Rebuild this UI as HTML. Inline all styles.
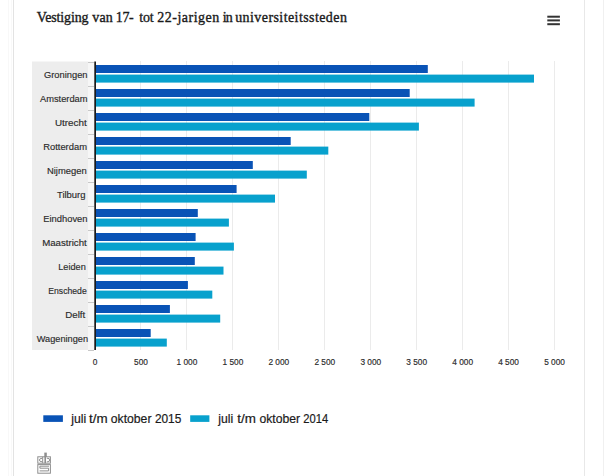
<!DOCTYPE html>
<html><head><meta charset="utf-8"><style>
html,body{margin:0;padding:0;background:#fff;}
body{width:604px;height:476px;overflow:hidden;position:relative;}
svg{position:absolute;left:0;top:0;}
.cat{font-family:"Liberation Sans",sans-serif;font-size:9.3px;fill:#2b2b2b;stroke:#2b2b2b;stroke-width:0.15px;}
.xl{font-family:"Liberation Sans",sans-serif;font-size:8.3px;fill:#2a2a2a;stroke:#2a2a2a;stroke-width:0.15px;}
.lg{font-family:"Liberation Sans",sans-serif;font-size:12.2px;fill:#1a1a1a;stroke:#1a1a1a;stroke-width:0.2px;}
.title{font-family:"Liberation Serif",serif;font-size:14px;fill:#1a1a1a;stroke:#1a1a1a;stroke-width:0.35px;}
</style></head><body>
<svg width="604" height="476" viewBox="0 0 604 476">
<line x1="13.5" y1="0" x2="13.5" y2="476" stroke="#e3e3e3" stroke-width="1"/>
<line x1="8.5" y1="0" x2="8.5" y2="476" stroke="#f8f8f8" stroke-width="1"/>
<line x1="11.5" y1="0" x2="11.5" y2="476" stroke="#f9f9f9" stroke-width="1"/>
<line x1="584.5" y1="0" x2="584.5" y2="476" stroke="#e8e8e8" stroke-width="1"/>
<line x1="603.5" y1="0" x2="603.5" y2="476" stroke="#f0f0f0" stroke-width="1"/>
<rect x="32" y="61.5" width="56.5" height="288.5" fill="#ededed"/>
<rect x="88.5" y="61.5" width="5.7" height="288.5" fill="#f6f6f6"/>
<line x1="140.5" y1="61" x2="140.5" y2="350" stroke="#ebebeb" stroke-width="1"/>
<line x1="186.5" y1="61" x2="186.5" y2="350" stroke="#ebebeb" stroke-width="1"/>
<line x1="232.5" y1="61" x2="232.5" y2="350" stroke="#ebebeb" stroke-width="1"/>
<line x1="278.5" y1="61" x2="278.5" y2="350" stroke="#ebebeb" stroke-width="1"/>
<line x1="324.5" y1="61" x2="324.5" y2="350" stroke="#ebebeb" stroke-width="1"/>
<line x1="370.5" y1="61" x2="370.5" y2="350" stroke="#ebebeb" stroke-width="1"/>
<line x1="416.5" y1="61" x2="416.5" y2="350" stroke="#ebebeb" stroke-width="1"/>
<line x1="462.5" y1="61" x2="462.5" y2="350" stroke="#ebebeb" stroke-width="1"/>
<line x1="508.5" y1="61" x2="508.5" y2="350" stroke="#ebebeb" stroke-width="1"/>
<line x1="554.5" y1="61" x2="554.5" y2="350" stroke="#ebebeb" stroke-width="1"/>
<line x1="88" y1="62.5" x2="94" y2="62.5" stroke="#c8c8c8" stroke-width="1"/>
<line x1="88" y1="86.5" x2="94" y2="86.5" stroke="#c8c8c8" stroke-width="1"/>
<line x1="88" y1="110.5" x2="94" y2="110.5" stroke="#c8c8c8" stroke-width="1"/>
<line x1="88" y1="134.5" x2="94" y2="134.5" stroke="#c8c8c8" stroke-width="1"/>
<line x1="88" y1="158.5" x2="94" y2="158.5" stroke="#c8c8c8" stroke-width="1"/>
<line x1="88" y1="182.5" x2="94" y2="182.5" stroke="#c8c8c8" stroke-width="1"/>
<line x1="88" y1="206.5" x2="94" y2="206.5" stroke="#c8c8c8" stroke-width="1"/>
<line x1="88" y1="230.5" x2="94" y2="230.5" stroke="#c8c8c8" stroke-width="1"/>
<line x1="88" y1="254.5" x2="94" y2="254.5" stroke="#c8c8c8" stroke-width="1"/>
<line x1="88" y1="278.5" x2="94" y2="278.5" stroke="#c8c8c8" stroke-width="1"/>
<line x1="88" y1="302.5" x2="94" y2="302.5" stroke="#c8c8c8" stroke-width="1"/>
<line x1="88" y1="326.5" x2="94" y2="326.5" stroke="#c8c8c8" stroke-width="1"/>
<line x1="88" y1="350.5" x2="94" y2="350.5" stroke="#c8c8c8" stroke-width="1"/>
<rect x="96" y="65" width="331.8" height="8" fill="#0953b6"/>
<rect x="96" y="74.6" width="438.0" height="8" fill="#08a1cd"/>
<rect x="96" y="89" width="313.7" height="8" fill="#0953b6"/>
<rect x="96" y="98.6" width="378.6" height="8" fill="#08a1cd"/>
<rect x="96" y="113" width="273.3" height="8" fill="#0953b6"/>
<rect x="96" y="122.6" width="322.9" height="8" fill="#08a1cd"/>
<rect x="96" y="137" width="194.7" height="8" fill="#0953b6"/>
<rect x="96" y="146.6" width="232.3" height="8" fill="#08a1cd"/>
<rect x="96" y="161" width="156.8" height="8" fill="#0953b6"/>
<rect x="96" y="170.6" width="210.8" height="8" fill="#08a1cd"/>
<rect x="96" y="185" width="140.6" height="8" fill="#0953b6"/>
<rect x="96" y="194.6" width="179.0" height="8" fill="#08a1cd"/>
<rect x="96" y="209" width="101.8" height="8" fill="#0953b6"/>
<rect x="96" y="218.6" width="132.9" height="8" fill="#08a1cd"/>
<rect x="96" y="233" width="99.6" height="8" fill="#0953b6"/>
<rect x="96" y="242.6" width="137.9" height="8" fill="#08a1cd"/>
<rect x="96" y="257" width="98.8" height="8" fill="#0953b6"/>
<rect x="96" y="266.6" width="127.5" height="8" fill="#08a1cd"/>
<rect x="96" y="281" width="91.9" height="8" fill="#0953b6"/>
<rect x="96" y="290.6" width="116.3" height="8" fill="#08a1cd"/>
<rect x="96" y="305" width="73.9" height="8" fill="#0953b6"/>
<rect x="96" y="314.6" width="124.2" height="8" fill="#08a1cd"/>
<rect x="96" y="329" width="54.7" height="8" fill="#0953b6"/>
<rect x="96" y="338.6" width="70.8" height="8" fill="#08a1cd"/>
<rect x="94" y="61.5" width="1" height="288.5" fill="#5a5a5a"/><rect x="95" y="61.5" width="1" height="288.5" fill="#1a1a1a"/>
<text x="43.96" y="77.6" class="cat" textLength="43.56" lengthAdjust="spacingAndGlyphs">Groningen</text>
<text x="40.00" y="101.6" class="cat" textLength="47.52" lengthAdjust="spacingAndGlyphs">Amsterdam</text>
<text x="54.98" y="125.6" class="cat" textLength="31.78" lengthAdjust="spacingAndGlyphs">Utrecht</text>
<text x="43.20" y="149.6" class="cat" textLength="43.80" lengthAdjust="spacingAndGlyphs">Rotterdam</text>
<text x="46.96" y="173.6" class="cat" textLength="39.80" lengthAdjust="spacingAndGlyphs">Nijmegen</text>
<text x="56.98" y="197.6" class="cat" textLength="28.52" lengthAdjust="spacingAndGlyphs">Tilburg</text>
<text x="43.20" y="221.6" class="cat" textLength="44.32" lengthAdjust="spacingAndGlyphs">Eindhoven</text>
<text x="42.22" y="245.6" class="cat" textLength="44.52" lengthAdjust="spacingAndGlyphs">Maastricht</text>
<text x="58.22" y="269.6" class="cat" textLength="27.52" lengthAdjust="spacingAndGlyphs">Leiden</text>
<text x="48.24" y="293.6" class="cat" textLength="38.52" lengthAdjust="spacingAndGlyphs">Enschede</text>
<text x="65.20" y="317.6" class="cat" textLength="20.06" lengthAdjust="spacingAndGlyphs">Delft</text>
<text x="36.76" y="341.6" class="cat" textLength="51.26" lengthAdjust="spacingAndGlyphs">Wageningen</text>
<text x="95.0" y="365.3" text-anchor="middle" class="xl">0</text>
<text x="141.0" y="365.3" text-anchor="middle" class="xl">500</text>
<text x="186.9" y="365.3" text-anchor="middle" class="xl">1 000</text>
<text x="232.9" y="365.3" text-anchor="middle" class="xl">1 500</text>
<text x="278.8" y="365.3" text-anchor="middle" class="xl">2 000</text>
<text x="324.8" y="365.3" text-anchor="middle" class="xl">2 500</text>
<text x="370.8" y="365.3" text-anchor="middle" class="xl">3 000</text>
<text x="416.7" y="365.3" text-anchor="middle" class="xl">3 500</text>
<text x="462.7" y="365.3" text-anchor="middle" class="xl">4 000</text>
<text x="508.6" y="365.3" text-anchor="middle" class="xl">4 500</text>
<text x="554.6" y="365.3" text-anchor="middle" class="xl">5 000</text>
<rect x="43.3" y="415.3" width="19.6" height="6.6" fill="#0953b6"/>
<rect x="190.2" y="415.3" width="19.2" height="6.6" fill="#08a1cd"/>
<text x="71.30" y="423.3" class="lg">juli</text>
<text x="89.00" y="423.3" class="lg" textLength="18.6" lengthAdjust="spacingAndGlyphs">t/m</text>
<text x="110.80" y="423.3" class="lg">oktober</text>
<text x="154.90" y="423.3" class="lg" textLength="26.4" lengthAdjust="spacingAndGlyphs">2015</text>
<text x="218.30" y="423.3" class="lg">juli</text>
<text x="237.30" y="423.3" class="lg" textLength="18.6" lengthAdjust="spacingAndGlyphs">t/m</text>
<text x="259.40" y="423.3" class="lg">oktober</text>
<text x="303.30" y="423.3" class="lg" textLength="24.9" lengthAdjust="spacingAndGlyphs">2014</text>
<text x="36.75" y="22.3" class="title" textLength="51.85" lengthAdjust="spacing">Vestiging</text>
<text x="92.30" y="22.3" class="title" textLength="20.50" lengthAdjust="spacing">van</text>
<text x="115.80" y="22.3" class="title" textLength="17.90" lengthAdjust="spacing">17-</text>
<text x="139.20" y="22.3" class="title" textLength="14.40" lengthAdjust="spacing">tot</text>
<text x="157.20" y="22.3" class="title" textLength="62.10" lengthAdjust="spacing">22-jarigen</text>
<text x="222.80" y="22.3" class="title" textLength="10.00" lengthAdjust="spacing">in</text>
<text x="235.20" y="22.3" class="title" textLength="111.70" lengthAdjust="spacing">universiteitssteden</text>
<line x1="547.3" y1="16.7" x2="559.9" y2="16.7" stroke="#333" stroke-width="2"/>
<line x1="547.3" y1="20.4" x2="559.9" y2="20.4" stroke="#333" stroke-width="2"/>
<line x1="547.3" y1="24.2" x2="559.9" y2="24.2" stroke="#333" stroke-width="2"/>
<g fill="none" stroke="#8e8e8e" stroke-width="1">
<rect x="37.8" y="456.8" width="12.6" height="6.4"/>
<line x1="42.7" y1="456.8" x2="42.7" y2="463.2"/>
<path d="M42.2 458.3 Q39.4 458.3 39.4 460 Q39.4 461.8 42.2 461.8"/>
<path d="M46.8 458.3 H48 Q49.6 458.3 49.6 460 Q49.6 461.8 48 461.8 H46.8"/>
<rect x="37.8" y="464.6" width="12.6" height="8.6"/>
<path d="M49 466.2 H39.9 V468.2 H48.6 V470.9 H39.6"/>
</g>
<rect x="44.3" y="452.6" width="2.5" height="4.4" fill="#8e8e8e"/><line x1="45.2" y1="456.8" x2="45.2" y2="463.2" stroke="#8e8e8e" stroke-width="1.6"/>
</svg>
</body></html>
